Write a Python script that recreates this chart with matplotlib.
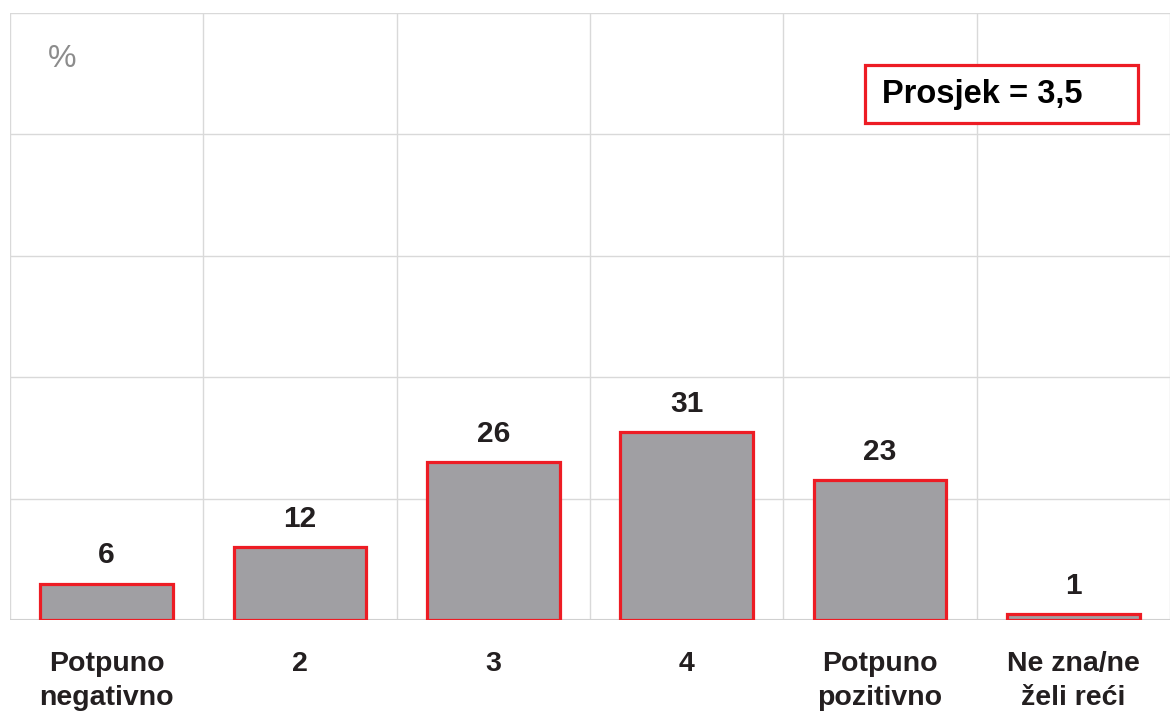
import matplotlib.pyplot as plt
from matplotlib.patches import Rectangle
import numpy as np

plt.rcParams['font.family'] = ['Liberation Sans', 'DejaVu Sans']

# podaci
categories = ['Potpuno\nnegativno', '2', '3', '4', 'Potpuno\npozitivno', 'Ne zna/ne\nželi reći']
values = [6, 12, 26, 31, 23, 1]
average_text = 'Prosjek = 3,5'

fig = plt.figure(figsize=(11.7, 7.15), dpi=100)
ax = fig.add_axes([10 / 1170, 95 / 715, 1 - 10 / 1170, 607 / 715])

x = np.arange(len(categories))
ax.bar(x, values, width=0.685, color='#A09FA3', edgecolor='#ED1C24', linewidth=2.3, zorder=3)

# vrijednosti iznad stupaca
for xi, v in zip(x, values):
    ax.annotate(str(v), (xi, v), xytext=(0, 14.5), textcoords='offset points',
                ha='center', va='baseline', fontsize=21.5, fontweight='bold', color='#231F20')

ax.set_xlim(-0.5, len(categories) - 0.5)
ax.set_ylim(0, 100)
ax.set_yticks(np.arange(0, 101, 20))
ax.set_yticklabels([])
ax.set_xticks(np.arange(-0.5, len(categories), 1), minor=False)
ax.set_xticklabels([])
ax.set_xticks(x, minor=True)
ax.set_xticklabels(categories, minor=True, fontsize=20.5, fontweight='bold',
                   color='#231F20', linespacing=1.38)
ax.tick_params(axis='both', which='both', length=0)
ax.tick_params(axis='x', which='minor', pad=22.5)
ax.grid(True, which='major', color='#D9D9D9', linewidth=1, zorder=0)

for s in ax.spines.values():
    s.set_visible(False)
ax.axhline(0, color='#D0D0D0', linewidth=1.5, zorder=2)

ax.text(0.033, 0.925, '%', transform=ax.transAxes, fontsize=23, color='#8C8C8C',
        ha='left', va='center')

# okvir s prosjekom
ax.add_patch(Rectangle((0.737, 0.819), 0.235, 0.095, transform=ax.transAxes,
                       facecolor='white', edgecolor='#ED1C24', linewidth=2.3, zorder=4))
ax.text(0.752, 0.866, average_text, transform=ax.transAxes, fontsize=23.5,
        fontweight='bold', color='black', ha='left', va='center', zorder=5)

plt.savefig('out.png', dpi=100)
